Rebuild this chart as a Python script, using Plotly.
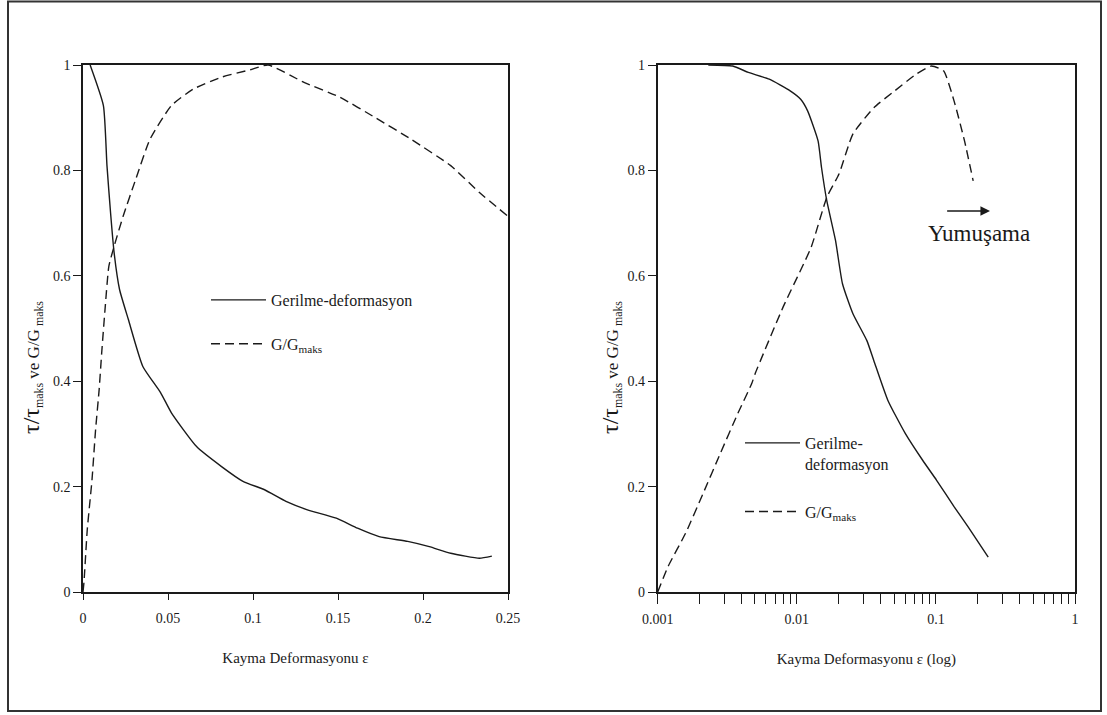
import math
import plotly.graph_objects as go
from plotly.subplots import make_subplots

# ---------------- data ----------------
# Left panel: linear strain axis
left_stress_x = [0.0042, 0.012, 0.0141, 0.0162, 0.0183, 0.0215, 0.0267, 0.0352, 0.0457, 0.052,
                 0.0668, 0.0815, 0.0941, 0.1068, 0.1194, 0.132, 0.149, 0.1615, 0.1742, 0.191,
                 0.2037, 0.2163, 0.2332, 0.2405]
left_stress_y = [1.0, 0.923, 0.809, 0.72, 0.644, 0.574, 0.517, 0.428, 0.378, 0.34,
                 0.276, 0.238, 0.21, 0.194, 0.172, 0.156, 0.14, 0.121, 0.105, 0.096,
                 0.086, 0.0735, 0.064, 0.068]

left_g_x = [0.0, 0.0006, 0.0025, 0.0053, 0.0074, 0.0095, 0.011, 0.0131, 0.0152, 0.0183,
            0.0236, 0.031, 0.0394, 0.052, 0.0647, 0.0815, 0.0984, 0.1089, 0.13, 0.151,
            0.172, 0.193, 0.2163, 0.2332, 0.25]
left_g_y = [0.0, 0.02, 0.118, 0.213, 0.308, 0.384, 0.454, 0.542, 0.618, 0.656,
            0.713, 0.783, 0.859, 0.923, 0.954, 0.977, 0.991, 1.0, 0.967, 0.939,
            0.9, 0.859, 0.809, 0.758, 0.713]

# Right panel: logarithmic strain axis
right_stress_x = [0.00231, 0.00346, 0.00448, 0.00634, 0.00896, 0.01066, 0.01196, 0.01422, 0.01506,
                  0.01644, 0.01898, 0.0213, 0.02533, 0.0319, 0.0358, 0.0451, 0.0602, 0.0803,
                  0.1012, 0.135, 0.170, 0.2377]
right_stress_y = [1.0, 0.998, 0.986, 0.973, 0.951, 0.935, 0.913, 0.856, 0.805,
                  0.742, 0.667, 0.585, 0.528, 0.477, 0.439, 0.364, 0.301, 0.25,
                  0.212, 0.162, 0.124, 0.066]

right_g_x = [0.001, 0.00119, 0.00159, 0.00212, 0.00282, 0.00377, 0.00475, 0.00503, 0.00798,
             0.01267, 0.01644, 0.0201, 0.0253, 0.0358, 0.0506, 0.0716, 0.0927, 0.1135,
             0.135, 0.1606, 0.1854]
right_g_y = [0.0, 0.049, 0.112, 0.187, 0.263, 0.339, 0.396, 0.415, 0.541,
             0.654, 0.749, 0.793, 0.869, 0.919, 0.951, 0.982, 0.998, 0.989,
             0.932, 0.856, 0.78]

# tick labels
y_tickvals = [0, 0.2, 0.4, 0.6, 0.8, 1]
y_ticktext = ["0", "0.2", "0.4", "0.6", "0.8", "1"]
left_x_tickvals = [0, 0.05, 0.1, 0.15, 0.2, 0.25]
left_x_ticktext = ["0", "0.05", "0.1", "0.15", "0.2", "0.25"]
right_x_tickvals = [0.001, 0.01, 0.1, 1]
right_x_ticktext = ["0.001", "0.01", "0.1", "1"]

# annotation (softening arrow) positions in data units
arrow_start_x, arrow_end_x, arrow_y = 0.1175, 0.245, 0.723
soft_label_x, soft_label_y = 0.205, 0.68

# ---------------- styling ----------------
FONT = "Liberation Serif, Times New Roman, serif"
INK = "#1a1a1a"
W, H = 1107, 715

fig = make_subplots(rows=1, cols=2)

stress_name_left = "Gerilme-deformasyon"
stress_name_right = "Gerilme-<br>deformasyon"
g_name = "G/G<sub>maks</sub>"

solid = dict(color=INK, width=1.4, shape="spline", smoothing=0.5)
dashed = dict(color=INK, width=1.4, dash="9px,5px", shape="spline", smoothing=0.5)

fig.add_trace(go.Scatter(x=left_stress_x, y=left_stress_y, mode="lines", name=stress_name_left,
                         line=solid, legend="legend", legendgroup="a"), row=1, col=1)
fig.add_trace(go.Scatter(x=left_g_x, y=left_g_y, mode="lines", name=g_name,
                         line=dashed, legend="legend", legendgroup="b"), row=1, col=1)
fig.add_trace(go.Scatter(x=right_stress_x, y=right_stress_y, mode="lines", name=stress_name_right,
                         line=solid, legend="legend2", legendgroup="c"), row=1, col=2)
fig.add_trace(go.Scatter(x=right_g_x, y=right_g_y, mode="lines", name=g_name,
                         line=dashed, legend="legend2", legendgroup="d"), row=1, col=2)

top_px, bot_px = 65, 592
ydom = [1 - bot_px / H, 1 - top_px / H]

axis_common = dict(showline=True, linecolor=INK, linewidth=1.6, mirror=True, showgrid=False,
                   zeroline=False, ticks="outside", tickcolor=INK, tickwidth=1.3, automargin=False,
                   tickfont=dict(family=FONT, size=14, color=INK))

fig.update_xaxes(axis_common, row=1, col=1)
fig.update_xaxes(axis_common, row=1, col=2)
fig.update_yaxes(axis_common, row=1, col=1)
fig.update_yaxes(axis_common, row=1, col=2)

fig.update_layout(
    xaxis=dict(domain=[83 / W, 508 / W], range=[0, 0.25], tickvals=left_x_tickvals,
               ticktext=left_x_ticktext, ticklen=6, ticklabelstandoff=6,
               title=dict(text="Kayma Deformasyonu ε", font=dict(family=FONT, size=15, color=INK),
                          standoff=28)),
    yaxis=dict(domain=ydom, range=[0, 1], tickvals=y_tickvals, ticktext=y_ticktext, ticklen=8),
    xaxis2=dict(domain=[657.7 / W, 1075 / W], type="log", range=[-3, 0],
                tickvals=right_x_tickvals, ticktext=right_x_ticktext, ticklen=10,
                ticklabelstandoff=3,
                minor=dict(ticks="outside", ticklen=10, tickwidth=1.3, tickcolor=INK, dtick="D1",
                           showgrid=False),
                title=dict(text="Kayma Deformasyonu ε (log)", font=dict(family=FONT, size=15, color=INK),
                           standoff=28)),
    yaxis2=dict(domain=ydom, range=[0, 1], tickvals=y_tickvals, ticktext=y_ticktext, ticklen=8),
    width=W, height=H,
    margin=dict(l=0, r=0, t=0, b=0, autoexpand=False),
    paper_bgcolor="white", plot_bgcolor="white",
    font=dict(family=FONT, color=INK),
    legend=dict(x=206 / W, y=1 - 283 / H, xanchor="left", yanchor="top",
                font=dict(family=FONT, size=16, color=INK), bgcolor="rgba(0,0,0,0)",
                tracegroupgap=20, traceorder="grouped", itemwidth=55),
    legend2=dict(x=740 / W, y=1 - 426 / H, xanchor="left", yanchor="top",
                 font=dict(family=FONT, size=16, color=INK), bgcolor="rgba(0,0,0,0)",
                 tracegroupgap=24, traceorder="grouped", valign="top", itemwidth=55),
)

ytitle = ("<span style='font-size:24px'>τ/τ</span><sub>maks</sub> ve G/G<sub> maks</sub>")
for xc in (32, 611):
    fig.add_annotation(text=ytitle, xref="paper", yref="paper", x=xc / W, y=1 - 368 / H,
                       textangle=-90, showarrow=False, font=dict(family=FONT, size=17, color=INK),
                       xanchor="center", yanchor="middle")

# softening arrow + label
fig.add_annotation(xref="x2", yref="y2", axref="x2", ayref="y2",
                   x=math.log10(arrow_end_x), y=arrow_y,
                   ax=math.log10(arrow_start_x), ay=arrow_y,
                   text="", showarrow=True, arrowhead=2, arrowsize=1.2, arrowwidth=1.6,
                   arrowcolor=INK)
fig.add_annotation(xref="x2", yref="y2", x=math.log10(soft_label_x), y=soft_label_y,
                   text="Yumuşama", showarrow=False, font=dict(family=FONT, size=23, color=INK),
                   xanchor="center", yanchor="middle")

# outer frame
fig.add_shape(type="rect", xref="paper", yref="paper", x0=8 / W, x1=1101 / W,
              y0=1 - 711 / H, y1=1 - 1.5 / H, line=dict(color="#333", width=2))

fig.write_html("out.html", config={"displayModeBar": False},
               post_script="document.body.style.margin='0';document.body.style.overflow='hidden';")
